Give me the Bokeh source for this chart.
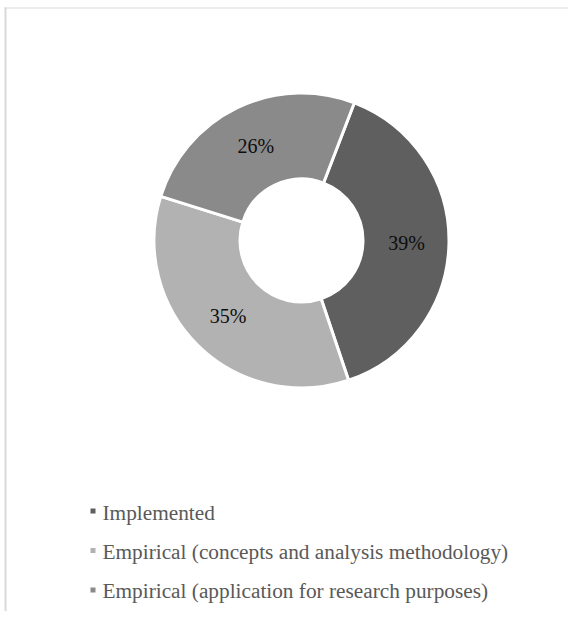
import math
from bokeh.plotting import figure
from bokeh.models import Range1d, ColumnDataSource
from bokeh.core.properties import value
from bokeh.embed import file_html
from bokeh.resources import INLINE

# ---- data ----
categories = [
    "Implemented",
    "Empirical (concepts and analysis methodology)",
    "Empirical (application for research purposes)",
]
shares = [39, 35, 26]
colors = ["#5f5f5f", "#b2b2b2", "#8a8a8a"]

# ---- layout (picture pixel based; data y = H - y, data x = x) ----
W, H = 568, 611

def dx(px):
    return px

def dy(py):
    return H - py

cx, cy = dx(301), dy(240)
r_out, r_in = 147.5, 61.5
start_cw = 21.0          # first slice starts 21 deg clockwise from 12 o'clock
label_r = 105.0

p = figure(width=W, height=H, output_backend="svg", toolbar_location=None,
           x_range=Range1d(0, W), y_range=Range1d(0, H), min_border=0)
p.axis.visible = False
p.grid.visible = False
p.outline_line_color = None
p.background_fill_color = "white"
p.border_fill_color = "white"

# chart area border (top and left edges visible)
p.segment(x0=[dx(4), dx(5)], y0=[dy(7.5), dy(7)], x1=[W + 5, dx(5)], y1=[dy(7.5), -5],
          line_color="#d9d9d9", line_width=[1, 2])

# wedge geometry from shares
total = float(sum(shares))
starts, ends, lx, ly, texts = [], [], [], [], []
cum = 0.0
for s in shares:
    a0 = start_cw + 360.0 * cum / total
    a1 = start_cw + 360.0 * (cum + s) / total
    starts.append(math.radians(90.0 - a1))
    ends.append(math.radians(90.0 - a0))
    mid = math.radians((a0 + a1) / 2.0)
    lx.append(cx + label_r * math.sin(mid))
    ly.append(cy + label_r * math.cos(mid))
    texts.append(f"{round(100 * s / total)}%")
    cum += s

src = ColumnDataSource(dict(start=starts, end=ends, color=colors,
                            lx=lx, ly=ly, text=texts, cat=categories))

p.annular_wedge(x=cx, y=cy, inner_radius=r_in, outer_radius=r_out,
                start_angle="start", end_angle="end", direction="anticlock",
                fill_color="color", line_color="white", line_width=3, source=src)

p.text(x="lx", y="ly", text="text", source=src,
       text_font=value("Liberation Serif"), text_font_size="20px",
       text_color="#0d0d0d", text_align="center", text_baseline="alphabetic",
       y_offset=0.5)

# ---- legend (manual) ----
leg_sq_x = [dx(92.5)] * 3
leg_sq_y = [dy(510.5), dy(550.0), dy(589.5)]
leg_tx_x = [dx(102)] * 3
leg_tx_y = [dy(512), dy(551), dy(590)]
lsrc = ColumnDataSource(dict(sx=leg_sq_x, sy=leg_sq_y, tx=leg_tx_x, ty=leg_tx_y,
                             color=colors, cat=categories))
p.rect(x="sx", y="sy", width=5, height=5, fill_color="color", line_color=None,
       source=lsrc)
p.text(x="tx", y="ty", text="cat", source=lsrc,
       text_font=value("Liberation Serif"), text_font_size="21.3px",
       text_color="#595959", text_align="left", text_baseline="alphabetic")

open("out.html", "w").write(file_html(p, INLINE))
